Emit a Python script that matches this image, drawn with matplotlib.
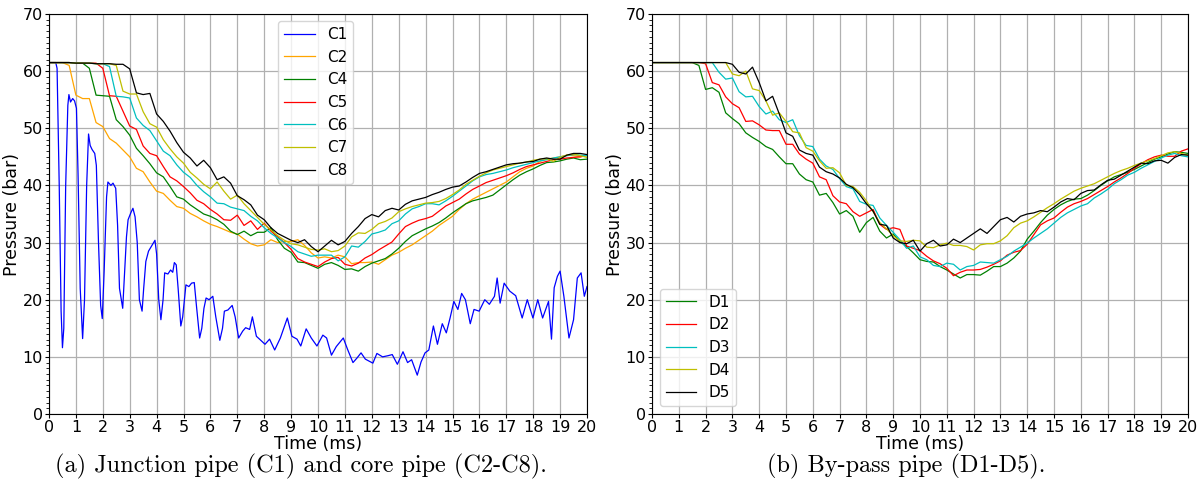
import numpy as np
import matplotlib
matplotlib.use("Agg")
import matplotlib.pyplot as plt
from matplotlib.ticker import MultipleLocator

# time grid (ms) shared by the C2-C8 and D1-D5 series
t = np.arange(0, 20.001, 0.25)

# C1 is very spiky, so it has its own time samples
t_c1 = [0.0, 0.25, 0.3, 0.38, 0.45, 0.50, 0.55, 0.62, 0.7, 0.74, 0.8, 0.88, 0.95, 1.02, 1.08, 1.16,
        1.25, 1.32, 1.4, 1.47, 1.53, 1.6, 1.7, 1.76, 1.84, 1.92, 1.98, 2.05, 2.14, 2.19, 2.3, 2.38,
        2.48, 2.55, 2.62, 2.74, 2.8, 2.88, 2.94, 3.05, 3.12, 3.2, 3.28, 3.36, 3.46, 3.52, 3.6, 3.7,
        3.8, 3.94, 4.0, 4.08, 4.16, 4.24, 4.3, 4.42, 4.52, 4.6, 4.66, 4.73, 4.8, 4.9, 4.97, 5.09,
        5.2, 5.3, 5.4, 5.48, 5.6, 5.68, 5.76, 5.84, 5.95, 6.09, 6.2, 6.35, 6.45, 6.52, 6.65, 6.81,
        6.92, 7.05, 7.2, 7.31, 7.46, 7.56, 7.71, 7.85, 8.03, 8.2, 8.39, 8.6, 8.86, 9.03, 9.22, 9.36,
        9.56, 9.75, 9.96, 10.18, 10.32, 10.5, 10.68, 10.94, 11.1, 11.3, 11.45, 11.6, 11.76, 12.04, 12.19, 12.4,
        12.6, 12.76, 12.95, 13.16, 13.33, 13.48, 13.69, 13.83, 13.98, 14.12, 14.29, 14.44, 14.62, 14.77, 14.91, 15.05,
        15.2, 15.34, 15.48, 15.66, 15.8, 15.99, 16.2, 16.37, 16.56, 16.66, 16.77, 16.92, 17.13, 17.35, 17.59, 17.78,
        17.99, 18.17, 18.35, 18.57, 18.68, 18.78, 18.9, 19.0, 19.14, 19.33, 19.5, 19.64, 19.78, 19.9, 20.0]
c1 = [61.5, 61.5, 60.5, 40, 18, 11.6, 15, 40, 54, 55.9, 54.6, 55.2, 54.8, 53.5, 42, 22,
      13.2, 20, 40, 49.0, 47, 46.3, 45.6, 43.5, 30, 19, 16.7, 25, 38, 40.6, 40.0, 40.4,
      39.5, 33, 22, 18.5, 24, 31, 34.0, 35.3, 36.0, 34.5, 30, 20, 18.0, 22, 26.7, 28.5,
      29.3, 30.4, 28, 20, 16.5, 20, 24.7, 24.5, 25.2, 24.8, 26.5, 26.1, 22, 15.4, 17, 22.6,
      22.3, 22.9, 23.0, 19, 13.3, 15, 18.5, 20.3, 20, 20.6, 17, 12.9, 15, 18, 18.2, 19.0,
      17, 13.3, 14.5, 15.1, 14.8, 17.0, 13.6, 13, 12.2, 13.1, 11.2, 13.3, 16.8, 13.6, 13.1, 11.9,
      14.9, 13.3, 11.9, 13.8, 13.3, 10.3, 11.8, 13.3, 11.3, 9.0, 9.8, 10.7, 9.6, 8.9, 10.6, 10.0,
      10.2, 10.4, 8.7, 10.9, 9.0, 9.5, 6.8, 9.1, 10.7, 11.2, 15.4, 12.2, 15.8, 14.2, 16.8, 19.7,
      18.3, 21.1, 20.0, 15.8, 18.3, 18.0, 20.0, 19.2, 20.6, 23.8, 19.4, 22.9, 21.5, 20.7, 16.8, 20.0,
      16.8, 20.0, 16.8, 19.7, 13.1, 22.1, 24.1, 25.0, 20.6, 13.3, 16.5, 23.8, 24.7, 20.6, 22.3]

c2 = [61.5, 61.5, 61.5, 61.0, 55.8, 55.2, 55.2, 51.0,
      50.3, 48.2, 47.4, 46.2, 45.0, 43.0, 42.4, 40.6,
      39.0, 38.6, 37.4, 36.3, 36.0, 35.1, 34.5, 33.8,
      33.2, 32.8, 32.3, 31.8, 31.5, 30.6, 29.8, 29.4,
      29.6, 30.5, 30.0, 30.2, 30.2, 30.5, 29.5, 28.2,
      27.3, 27.5, 27.3, 27.8, 27.5, 26.3, 26.5, 26.5,
      26.6, 26.2, 27.0, 27.8, 28.3, 29.0, 29.6, 30.4,
      31.2, 32.0, 33.0, 33.8, 34.6, 35.8, 36.8, 37.6,
      38.2, 38.8, 39.4, 40.0, 40.6, 41.5, 42.4, 43.0,
      43.4, 44.2, 44.6, 44.8, 45.0, 45.3, 45.2, 45.0, 45.2]
c4 = [61.5, 61.5, 61.5, 61.5, 61.4, 61.4, 60.5, 55.8,
      55.7, 55.6, 51.5, 50.3, 48.8, 46.5, 45.2, 43.8,
      42.2, 41.5, 39.8, 38.0, 37.6, 36.6, 35.8, 35.0,
      34.6, 34.0, 33.2, 32.0, 31.4, 32.0, 31.2, 31.8,
      31.8, 32.6, 30.5, 29.0, 28.3, 26.6, 26.5, 26.0,
      25.5, 26.2, 26.5, 26.0, 25.3, 25.4, 25.0, 25.8,
      26.4, 26.8, 27.2, 28.0, 29.0, 30.2, 31.2, 31.8,
      32.4, 32.9, 33.5, 34.3, 35.2, 36.0, 36.8, 37.3,
      37.6, 37.9, 38.3, 39.2, 40.1, 41.0, 41.8, 42.4,
      42.9, 43.5, 44.0, 44.1, 44.3, 44.6, 44.8, 44.5, 44.6]
c5 = [61.5, 61.5, 61.5, 61.5, 61.4, 61.4, 61.4, 61.4,
      60.5, 55.7, 55.6, 53.0, 50.4, 49.8, 46.9, 45.6,
      45.2, 43.3, 41.5, 40.8, 39.8, 38.7, 37.4, 36.8,
      35.8, 35.0, 34.0, 33.9, 34.8, 33.0, 33.8, 32.3,
      33.4, 32.0, 31.0, 30.0, 28.8, 27.2, 26.6, 26.2,
      25.8, 26.6, 27.2, 27.4, 26.2, 25.9, 26.4, 27.3,
      27.9, 28.7, 29.4, 30.1, 31.5, 32.8, 33.4, 33.9,
      34.2, 34.6, 35.5, 36.4, 37.0, 37.6, 38.5, 39.3,
      39.9, 40.5, 40.9, 41.3, 41.7, 42.2, 42.8, 43.3,
      43.6, 43.9, 44.2, 44.5, 44.6, 44.8, 44.9, 45.0, 45.3]
c6 = [61.5, 61.5, 61.5, 61.5, 61.4, 61.4, 61.4, 61.3,
      61.3, 60.8, 55.6, 55.5, 55.3, 51.8, 50.5, 49.6,
      47.8, 46.0, 45.2, 43.6, 42.3, 41.4, 40.0, 38.9,
      38.0, 36.9, 36.8, 36.2, 35.9, 35.6, 34.6, 33.8,
      32.6, 31.6, 30.8, 30.0, 29.3, 28.4, 28.0, 27.6,
      27.8, 27.8, 27.8, 26.8, 27.5, 29.4, 29.2, 30.2,
      31.5, 31.8, 32.2, 33.3, 33.8, 35.0, 35.9, 36.3,
      36.8, 36.8, 36.6, 37.3, 38.1, 39.0, 39.9, 40.8,
      41.5, 41.9, 42.1, 42.4, 42.7, 43.1, 43.4, 43.7,
      44.0, 44.3, 44.5, 44.8, 45.0, 45.2, 45.4, 45.3, 45.2]
c7 = [61.5, 61.5, 61.5, 61.5, 61.4, 61.4, 61.4, 61.3,
      61.3, 61.3, 61.0, 56.5, 56.0, 56.0, 52.9, 50.8,
      50.2, 48.0, 46.4, 45.0, 43.9, 42.3, 41.3, 40.2,
      39.4, 40.6, 39.0, 37.6, 38.3, 36.8, 35.6, 34.4,
      33.2, 32.2, 31.2, 30.4, 29.8, 29.6, 29.2, 28.8,
      28.7, 28.9, 28.4, 28.6, 29.4, 31.0, 31.7, 31.6,
      32.3, 33.3, 33.7, 34.3, 35.4, 35.9, 36.3, 36.6,
      36.9, 37.0, 37.2, 37.7, 38.4, 39.2, 40.2, 40.9,
      41.6, 42.2, 42.7, 43.0, 43.3, 43.6, 43.9, 44.1,
      44.4, 44.6, 44.7, 44.2, 44.9, 45.3, 45.5, 45.2, 44.9]
c8 = [61.5, 61.5, 61.5, 61.5, 61.4, 61.4, 61.4, 61.3,
      61.3, 61.3, 61.2, 61.2, 60.4, 56.2, 55.9, 56.1,
      52.5, 51.2, 49.5, 47.5, 45.8, 44.8, 43.4, 44.4,
      43.1, 41.0, 41.5, 40.4, 38.2, 37.5, 36.6, 34.8,
      34.0, 32.6, 31.6, 31.0, 30.4, 30.0, 30.5, 29.3,
      28.4, 29.4, 30.4, 29.6, 30.2, 31.6, 32.8, 34.2,
      34.9, 34.5, 35.6, 36.0, 35.7, 36.7, 37.3, 37.6,
      37.9, 38.4, 38.8, 39.3, 39.7, 39.9, 40.6, 41.4,
      42.1, 42.4, 42.8, 43.2, 43.6, 43.8, 43.9, 44.1,
      44.2, 44.6, 44.8, 44.6, 44.6, 45.3, 45.6, 45.6, 45.4]

d1 = [61.5, 61.5, 61.5, 61.5, 61.5, 61.5, 61.5, 61.0,
      56.8, 57.1, 56.3, 52.7, 51.7, 50.8, 49.2, 48.4,
      47.7, 46.8, 46.3, 45.0, 43.8, 43.8, 42.0, 41.0,
      40.6, 38.3, 38.6, 37.0, 35.0, 35.6, 34.6, 31.8,
      33.5, 34.4, 32.0, 30.8, 31.5, 30.2, 29.3, 28.2,
      27.0, 26.7, 26.6, 25.8, 25.2, 24.5, 23.8, 24.4,
      24.4, 24.3, 25.0, 25.8, 25.8, 26.4, 27.3, 28.5,
      30.6, 32.0, 33.5, 34.8, 35.8, 36.6, 37.2, 37.6,
      37.7, 38.3, 39.1, 40.0, 40.8, 41.5, 41.9, 42.3,
      42.8, 43.4, 44.0, 44.6, 45.0, 45.5, 45.9, 45.8, 45.6]
d2 = [61.5, 61.5, 61.5, 61.5, 61.5, 61.5, 61.5, 61.5,
      61.3, 58.0, 57.6, 55.5, 54.3, 53.6, 51.2, 51.3,
      50.6, 49.7, 49.6, 49.6, 47.2, 47.2, 45.5, 44.6,
      43.9, 41.5, 41.0, 38.2, 37.1, 36.8, 35.4, 34.6,
      35.2, 35.8, 33.2, 32.3, 32.6, 32.3, 29.4, 29.0,
      28.6, 27.6, 26.8, 26.3, 25.5, 24.2, 24.8, 25.2,
      25.2, 25.3, 25.7, 26.2, 26.8, 27.8, 28.3, 28.6,
      29.7, 31.4, 33.1, 33.8, 34.3, 35.3, 36.2, 36.8,
      37.2, 37.7, 38.4, 39.1, 39.8, 40.6, 41.3, 42.1,
      43.0, 43.8, 44.5, 45.0, 45.3, 45.1, 45.1, 46.0, 46.4]
d3 = [61.5, 61.5, 61.5, 61.5, 61.5, 61.5, 61.5, 61.5,
      61.5, 61.5, 59.8, 58.6, 58.8, 56.4, 55.5, 55.6,
      53.8, 52.5, 53.0, 51.5, 51.0, 51.5, 48.7, 47.0,
      46.8, 44.6, 43.4, 42.8, 41.2, 39.8, 39.4, 37.2,
      36.7, 36.5, 34.3, 33.0, 31.8, 30.5, 29.0, 29.4,
      27.5, 27.0, 26.0, 25.8, 26.4, 26.2, 25.2, 25.8,
      26.0, 26.6, 26.5, 26.4, 27.0, 27.6, 28.5, 29.2,
      29.9, 30.8, 31.6, 32.4, 33.4, 34.4, 35.2, 35.8,
      36.4, 36.8, 37.8, 38.5, 39.3, 40.3, 41.0, 41.8,
      42.3, 43.0, 43.6, 44.2, 44.8, 45.3, 45.6, 45.2, 45.0]
d4 = [61.5, 61.5, 61.5, 61.5, 61.5, 61.5, 61.5, 61.5,
      61.5, 61.5, 61.5, 61.5, 59.5, 59.2, 60.0, 56.9,
      56.6, 54.8, 52.3, 52.7, 51.2, 49.4, 49.2, 46.6,
      46.0, 44.3, 43.0, 43.1, 42.2, 40.0, 39.8, 38.8,
      37.3, 35.4, 33.5, 32.4, 31.2, 30.3, 30.2, 30.4,
      30.3, 29.2, 29.1, 29.6, 29.9, 29.5, 29.5, 29.3,
      28.7, 29.6, 29.8, 29.8, 30.3, 31.2, 32.6, 33.4,
      33.8, 34.5, 35.3, 36.1, 36.8, 37.6, 38.3, 39.0,
      39.5, 39.9, 40.3, 40.9, 41.5, 42.1, 42.6, 43.0,
      43.5, 43.9, 44.3, 44.7, 45.2, 45.7, 45.9, 45.6, 45.3]
d5 = [61.5, 61.5, 61.5, 61.5, 61.5, 61.5, 61.5, 61.5,
      61.5, 61.5, 61.5, 61.5, 61.2, 59.8, 59.5, 60.7,
      58.0, 54.8, 55.6, 52.5, 49.2, 48.6, 46.2, 45.6,
      45.3, 43.2, 42.4, 42.0, 41.3, 40.2, 39.6, 38.4,
      36.8, 35.5, 33.2, 33.0, 30.8, 30.0, 29.8, 30.4,
      28.5, 29.8, 30.4, 29.4, 29.6, 30.6, 30.0, 30.8,
      31.6, 32.4, 31.6, 32.8, 34.0, 34.4, 33.6, 34.6,
      35.0, 35.2, 35.6, 35.4, 36.2, 37.1, 37.7, 37.5,
      38.6, 39.1, 39.2, 40.1, 40.9, 41.1, 41.8, 42.5,
      43.2, 43.9, 43.8, 44.3, 44.4, 43.9, 44.9, 45.4, 45.3]

c_series = [("C2", c2, "orange"), ("C4", c4, "g"), ("C5", c5, "r"),
            ("C6", c6, "c"), ("C7", c7, "y"), ("C8", c8, "k")]
d_series = [("D1", d1, "g"), ("D2", d2, "r"), ("D3", d3, "c"),
            ("D4", d4, "y"), ("D5", d5, "k")]

fig = plt.figure(figsize=(12.03, 4.90), dpi=100)
ax1 = fig.add_axes([49 / 1203, 76 / 490, 538 / 1203, 400 / 490])
ax2 = fig.add_axes([652 / 1203, 76 / 490, 536 / 1203, 400 / 490])

ax1.plot(t_c1, c1, color="b", lw=0.9, label="C1")
for name, vals, col in c_series:
    ax1.plot(t, vals, color=col, lw=0.9, label=name)
for name, vals, col in d_series:
    ax2.plot(t, vals, color=col, lw=0.9, label=name)

for ax in (ax1, ax2):
    ax.set_xlim(0, 20)
    ax.set_ylim(0, 70)
    ax.xaxis.set_major_locator(MultipleLocator(1))
    ax.yaxis.set_major_locator(MultipleLocator(10))
    ax.yaxis.set_minor_locator(MultipleLocator(1))
    ax.tick_params(axis="y", which="minor", length=2, width=0.6)
    ax.tick_params(which="major", labelsize=11.5, length=3, pad=1.5)
    ax.grid(True, which="major", color="#b0b0b0", lw=0.9)
    ax.set_axisbelow(True)
    ax.set_xlabel("Time (ms)", fontsize=12.5, labelpad=0)
    ax.set_ylabel("Pressure (bar)", fontsize=12.5, labelpad=1)

ax1.legend(loc="upper left", bbox_to_anchor=(0.4257, 0.9825), borderaxespad=0,
           fontsize=11, handlelength=2.0)
ax2.legend(loc="lower left", fontsize=11, handlelength=2.0)

fig.text(0.25, 0.049, "(a) Junction pipe (C1) and core pipe (C2-C8).",
         ha="center", va="center", fontsize=17.5, family="cmr10")
fig.text(0.753, 0.049, "(b) By-pass pipe (D1-D5).",
         ha="center", va="center", fontsize=17.5, family="cmr10")

fig.savefig("out.png", dpi=100)
